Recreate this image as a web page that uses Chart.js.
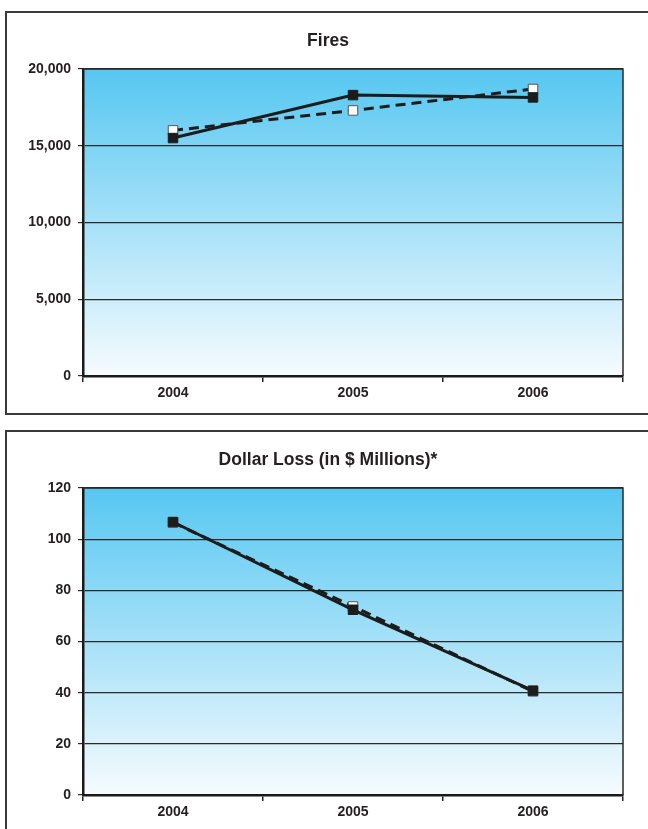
<!DOCTYPE html>
<html>
<head>
<meta charset="utf-8">
<script src="https://cdn.jsdelivr.net/npm/chart.js@4/dist/chart.umd.min.js"></script>
<style>
  html, body { margin: 0; padding: 0; background: #fff; overflow: hidden; }
  body { width: 648px; height: 829px; position: relative; }
  .frame { position: absolute; left: 5px; width: 660px; border: 2px solid #3a3a3a; box-sizing: border-box; }
  #f1 { top: 11px; height: 404px; }
  #f2 { top: 430px; height: 420px; }
  canvas { position: absolute; left: 0; }
  #c1 { top: 0; }
  #c2 { top: 419px; }
</style>
</head>
<body>
<div class="frame" id="f1"></div>
<div class="frame" id="f2"></div>
<canvas id="c1" width="648" height="419"></canvas>
<canvas id="c2" width="648" height="419"></canvas>
<script>
// Years on the category axis
const years = ['2004', '2005', '2006'];

// Fires: two series (solid line and dashed line)
const firesSolid = [15500, 18300, 18150];
const firesDashed = [16000, 17300, 18700];
const firesTicks = [0, 5000, 10000, 15000, 20000];

// Dollar loss in $ millions
const lossSolid = [106.7, 72.4, 40.8];
const lossDashed = [106.5, 73.7, 40.5];
const lossTicks = [0, 20, 40, 60, 80, 100, 120];

const FONT = "'Liberation Sans', Arial, sans-serif";
const INK = '#231f20';

// Sky-blue gradient behind the plot, a dark frame around it, and the heading
const plotBackground = {
  id: 'plotBackground',
  beforeDraw(chart) {
    const { ctx, chartArea: a } = chart;
    const g = ctx.createLinearGradient(0, a.top, 0, a.bottom);
    g.addColorStop(0, 'rgb(86,199,241)');
    g.addColorStop(1, 'rgb(246,251,254)');
    ctx.save();
    ctx.fillStyle = g;
    ctx.fillRect(a.left, a.top, a.right - a.left, a.bottom - a.top);
    ctx.restore();
  },
  beforeDatasetsDraw(chart) {
    const { ctx, chartArea: a } = chart;
    ctx.save();
    ctx.strokeStyle = '#2a2a2a';
    ctx.lineWidth = 1.5;
    ctx.beginPath();
    ctx.moveTo(a.left, a.top);
    ctx.lineTo(a.right, a.top);
    ctx.lineTo(a.right, a.bottom);
    ctx.stroke();
    ctx.restore();
  },
  afterDraw(chart, args, opts) {
    if (!opts.text) return;
    const { ctx } = chart;
    ctx.save();
    ctx.fillStyle = INK;
    ctx.font = 'bold 17.5px ' + FONT;
    ctx.textAlign = 'center';
    ctx.textBaseline = 'middle';
    ctx.fillText(opts.text, 328, 41);
    ctx.restore();
  }
};

function makeChart(id, title, solid, dashed, ticks) {
  const max = ticks[ticks.length - 1];
  const step = ticks[1] - ticks[0];
  return new Chart(document.getElementById(id), {
    type: 'line',
    data: {
      labels: years,
      datasets: [
        {
          data: solid,
          borderColor: '#1c1c1c',
          borderWidth: 3,
          pointStyle: 'rect',
          pointRadius: 6.7,
          pointBackgroundColor: '#1c1c1c',
          pointBorderColor: '#1c1c1c',
          pointBorderWidth: 1,
          tension: 0,
          order: 0
        },
        {
          data: dashed,
          borderColor: '#1c1c1c',
          borderWidth: 3,
          borderDash: [10, 6],
          pointStyle: 'rect',
          pointRadius: 6.7,
          pointBackgroundColor: '#ffffff',
          pointBorderColor: '#555',
          pointBorderWidth: 1,
          tension: 0,
          order: 1
        }
      ]
    },
    options: {
      responsive: false,
      animation: false,
      events: [],
      layout: { padding: { top: 69, left: 0, right: 25, bottom: 13 } },
      plugins: {
        legend: { display: false },
        tooltip: { enabled: false },
        title: { display: false },
        plotBackground: { text: title }
      },
      scales: {
        x: {
          offset: true,
          grid: {
            offset: true,
            drawOnChartArea: false,
            drawTicks: true,
            tickLength: 6,
            color: '#222',
            lineWidth: 1.5
          },
          border: { display: true, color: '#1a1a1a', width: 2.5 },
          ticks: { color: INK, font: { family: FONT, size: 14, weight: 'bold' }, padding: 3, maxRotation: 0 },
          afterFit(scale) { scale.height = 30; }
        },
        y: {
          min: 0,
          max: max,
          grid: {
            color: '#2a2a2a',
            lineWidth: 1.2,
            drawTicks: true,
            tickLength: 5,
            tickColor: '#2a2a2a'
          },
          border: { display: true, color: '#1a1a1a', width: 2.5 },
          ticks: {
            stepSize: step,
            color: INK,
            font: { family: FONT, size: 14, weight: 'bold' },
            padding: 7,
            callback: (v) => v.toLocaleString('en-US')
          },
          afterFit(scale) { scale.width = 83; }
        }
      }
    },
    plugins: [plotBackground]
  });
}

makeChart('c1', 'Fires', firesSolid, firesDashed, firesTicks);
makeChart('c2', 'Dollar Loss (in $ Millions)*', lossSolid, lossDashed, lossTicks);
</script>
</body>
</html>
